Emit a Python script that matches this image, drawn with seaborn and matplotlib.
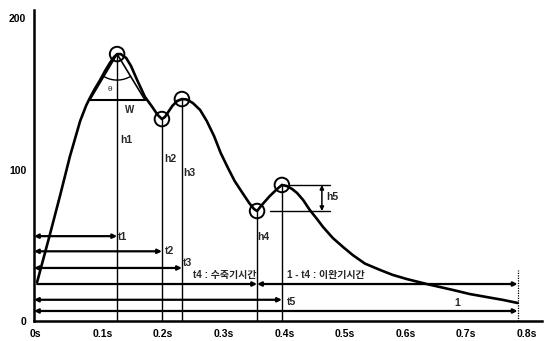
import numpy as np
import pandas as pd
import matplotlib
matplotlib.use("Agg")
import matplotlib.pyplot as plt
from matplotlib.transforms import ScaledTranslation
import seaborn as sns

# Pulse waveform (time in s, amplitude)
wave_t = [-0.008, 0.013, 0.030, 0.046, 0.063, 0.073, 0.079, 0.087, 0.096, 0.104,
          0.112, 0.119, 0.124, 0.130, 0.139, 0.147, 0.157, 0.170, 0.182, 0.191,
          0.198, 0.203, 0.215, 0.223, 0.231, 0.239, 0.249, 0.261, 0.272, 0.284,
          0.295, 0.307, 0.318, 0.330, 0.342, 0.350, 0.355, 0.363, 0.376, 0.388,
          0.396, 0.404, 0.413, 0.421, 0.431, 0.442, 0.454, 0.464, 0.480, 0.497,
          0.513, 0.533, 0.558, 0.579, 0.602, 0.635, 0.678, 0.706, 0.734, 0.761,
          0.785]
wave_y = [25.7, 57.0, 83.0, 108.5, 132.0, 142.3, 147.2, 153.1, 159.1, 165.0,
          170.3, 174.3, 176.2, 176.2, 173.6, 168.3, 159.1, 147.9, 141.3, 136.0,
          133.3, 134.7, 141.9, 145.2, 146.5, 146.2, 143.9, 139.3, 132.0, 122.1,
          110.9, 101.0, 92.4, 85.1, 77.9, 73.9, 72.6, 76.6, 82.5, 87.1,
          89.8, 89.1, 87.1, 84.5, 79.9, 73.3, 67.3, 62.0, 54.8, 48.8,
          43.5, 37.9, 33.7, 30.4, 27.7, 24.4, 20.5, 17.8, 15.8, 13.9,
          11.9]

# Characteristic points h1..h5
point_names = ["h1", "h2", "h3", "h4", "h5"]
point_t = [0.124, 0.198, 0.231, 0.355, 0.396]
point_y = [176.2, 133.3, 146.5, 72.6, 89.8]
period_end = 0.785

# Width line of the main peak
w_level = 145.9
w_left, w_right = 0.079, 0.170

# Heights of the time arrows
t_rows = {"t1": 56, "t2": 46, "t3": 35, "t4": 24.4, "t5": 14, "1": 6.6}

xticks = [0, 0.1, 0.2, 0.3, 0.4, 0.5, 0.6, 0.7, 0.8]
xticklabels = ["0s", "0.1s", "0.2s", "0.3s", "0.4s", "0.5s", "0.6s", "0.7s", "0.8s"]
yticks = [0, 100, 200]

sns.set_style("white")
plt.rcParams["font.family"] = ["Liberation Sans", "Noto Sans CJK KR", "DejaVu Sans"]

fig = plt.figure(figsize=(5.49, 3.41), dpi=100)
ax = fig.add_axes([0.0619, 0.0587, 0.925, 0.912])

xmin, xmax = -0.0132, 0.825
ax.set_xlim(xmin, xmax)
ax.set_ylim(0, 205.3)

# pixel scale helpers for decorations
px_x = 0.1 / 60.6
px_y = 100 / 151.5

wave = pd.DataFrame({"t": wave_t, "y": wave_y})
sns.lineplot(data=wave, x="t", y="y", ax=ax, color="black", lw=1.9, sort=False)

# vertical height lines
ax.vlines(point_t, 0, point_y, color="black", lw=1.0)
ax.vlines([period_end], 0, 33.7, color="black", lw=0.9, linestyles=(0, (1, 1)))

pts = pd.DataFrame({"t": point_t, "y": point_y})
sns.scatterplot(data=pts, x="t", y="y", ax=ax, s=110, facecolor="none",
                edgecolor="black", linewidth=1.4, zorder=5)

# main peak: width line, side lines and angle arc
p0t, p0y = point_t[0], point_y[0]
ax.plot([w_left, w_right], [w_level, w_level], color="black", lw=1.5)
ax.plot([w_left, p0t, w_right], [w_level, p0y, w_level], color="black", lw=1.2)
a1 = np.arctan2((w_level - p0y) / px_y, (w_left - p0t) / px_x)
a2 = np.arctan2((w_level - p0y) / px_y, (w_right - p0t) / px_x)
ang = np.linspace(a1, a2, 30)
r = 26
ax.plot(p0t + r * np.cos(ang) * px_x, p0y + r * np.sin(ang) * px_y, color="black", lw=1.0)
ax.text(0.112, 152.8, "θ", fontsize=6, ha="center", va="center")
ax.text(0.145, 139.3, "W", fontsize=7, ha="center", va="center", fontweight="bold")

# height labels
hl = [(0.129, 119.5), (0.201, 107), (0.234, 97.7), (0.356, 55.4), (0.469, 81.8)]
for name, (tx, ty) in zip(point_names, hl):
    ax.text(tx, ty, name, fontsize=7.5, ha="left", va="center", fontweight="bold")

# h5 bracket
ax.plot([0.409, 0.475], [point_y[4], point_y[4]], color="black", lw=1.0)
ax.plot([0.376, 0.475], [point_y[3], point_y[3]], color="black", lw=1.0)
ap = dict(arrowstyle="<|-|>", color="black", lw=1.1, mutation_scale=6, shrinkA=0, shrinkB=0)
ax.annotate("", xy=(0.462, point_y[4]), xytext=(0.462, point_y[3]), arrowprops=ap)

# time arrows
def arrow(x0, x1, y, style="<|-|>"):
    ax.annotate("", xy=(x1, y), xytext=(x0, y),
                arrowprops=dict(arrowstyle=style, color="black", lw=1.6,
                                mutation_scale=6, shrinkA=0, shrinkB=0))

arrow(xmin, point_t[0], t_rows["t1"])
arrow(xmin, point_t[1], t_rows["t2"])
arrow(xmin, point_t[2], t_rows["t3"])
arrow(wave_t[0], point_t[3], t_rows["t4"], "-|>")
arrow(point_t[3], period_end, t_rows["t4"])
arrow(xmin, point_t[4], t_rows["t5"])
arrow(xmin, period_end, t_rows["1"])

fs = 7.5
ax.text(0.125, 55.4, "t1", fontsize=fs, va="center", fontweight="bold")
ax.text(0.203, 46, "t2", fontsize=fs, va="center", fontweight="bold")
ax.text(0.233, 38.3, "t3", fontsize=fs, va="center", fontweight="bold")
ax.text(0.249, 30.4, "t4 : 수축기시간", fontsize=7.2, va="center", fontweight="bold")
ax.text(0.404, 30.4, "1 - t4 : 이완기시간", fontsize=7.2, va="center", fontweight="bold")
ax.text(0.404, 12.5, "t5", fontsize=fs, va="center", fontweight="bold")
ax.text(0.685, 11.9, "1", fontsize=fs, ha="center", va="center", fontweight="bold")

# axes styling
sns.despine(ax=ax)
for side in ("left", "bottom"):
    ax.spines[side].set_linewidth(1.8)
    ax.spines[side].set_color("black")
ax.set_xticks(xticks)
ax.set_xticklabels(xticklabels)
ax.set_yticks(yticks)
ax.tick_params(axis="both", direction="out", length=4, width=1.2, colors="black",
               labelsize=7.5, pad=1.5)
for lab in ax.get_xticklabels() + ax.get_yticklabels():
    lab.set_fontweight("bold")
zero_lab = ax.get_xticklabels()[0]
zero_lab.set_transform(zero_lab.get_transform() + ScaledTranslation(-7 / 100, 0, fig.dpi_scale_trans))
ax.set_xlabel("")
ax.set_ylabel("")

fig.savefig("out.png", dpi=100)
